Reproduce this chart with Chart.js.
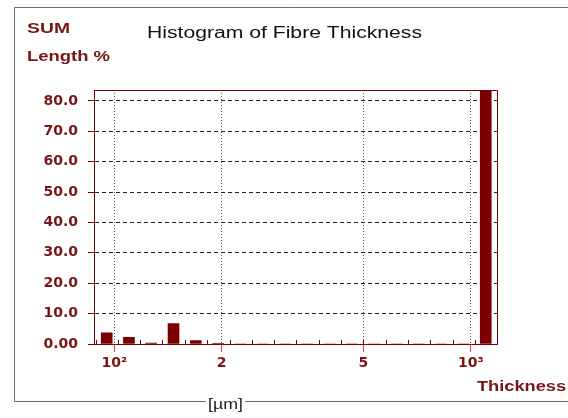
<!DOCTYPE html>
<html>
<head>
<meta charset="utf-8">
<script src="https://cdn.jsdelivr.net/npm/chart.js@4"></script>
<style>
  html, body { margin: 0; padding: 0; background: #fff; }
</style>
</head>
<body>
<canvas id="chart" width="568" height="418"></canvas>
<script>
// thickness classes (class centre, um) and the SUM length % in each class
const binCentres = [95.2, 109.9, 126.9, 146.6, 169.3, 195.6, 225.9, 260.9, 301.4, 348.1, 402.0, 464.4, 536.3, 619.5, 715.4, 826.3, 954.3, 1102];
const lengthPct = [3.7, 2.2, 0.3, 6.7, 1.1, 0.2, 0, 0, 0, 0, 0, 0, 0, 0, 0, 0, 0, 83.6];
// class boundaries, shown as the small ticks on the thickness axis
const binEdges = [88.6, 102.3, 118.2, 136.5, 157.7, 182.2, 210.5, 243.1, 280.8, 324.3, 374.7, 432.8, 499.9, 577.4, 667.0, 770.4, 889.9, 1028.0, 1187.4];
const xTicks = [100, 200, 500, 1000];
const xTickLabels = ["10\u00b2", "2", "5", "10\u00b3"];
const yTicks = [0, 10, 20, 30, 40, 50, 60, 70, 80];
const yTickLabels = ["0.00", "10.0", "20.0", "30.0", "40.0", "50.0", "60.0", "70.0", "80.0"];

const MAROON = "#7a0000";
const LABEL = "#7a1515";

// draws text squeezed/stretched to a given width (the original is rendered wide)
function wideText(ctx, text, left, base, width, font, color) {
  ctx.save();
  ctx.font = font;
  ctx.fillStyle = color;
  ctx.textBaseline = "alphabetic";
  ctx.textAlign = "left";
  const w = ctx.measureText(text).width;
  ctx.translate(left, base);
  ctx.scale(width / w, 1);
  ctx.fillText(text, 0, 0);
  ctx.restore();
}

const decor = {
  id: "decor",
  afterDraw(chart) {
    const { ctx, chartArea: a } = chart;
    const x = chart.scales.x;
    ctx.save();

    // outer frame (top, left, bottom with the unit label)
    ctx.strokeStyle = "#6a6a6a";
    ctx.lineWidth = 1;
    ctx.beginPath();
    ctx.moveTo(568, 7.5);
    ctx.lineTo(14.5, 7.5);
    ctx.lineTo(14.5, 401.5);
    ctx.lineTo(206, 401.5);
    ctx.moveTo(245, 401.5);
    ctx.lineTo(568, 401.5);
    ctx.stroke();

    // plot box top + right
    ctx.strokeStyle = MAROON;
    ctx.beginPath();
    ctx.moveTo(a.left, Math.round(a.top) + 0.5);
    ctx.lineTo(Math.round(a.right) - 0.5, Math.round(a.top) + 0.5);
    ctx.lineTo(Math.round(a.right) - 0.5, a.bottom);
    ctx.stroke();

    // class boundary ticks
    ctx.strokeStyle = MAROON;
    binEdges.forEach(v => {
      const px = Math.round(x.getPixelForValue(v)) + 0.5;
      ctx.beginPath();
      ctx.moveTo(px, a.bottom - 4);
      ctx.lineTo(px, a.bottom + 1);
      ctx.stroke();
    });
    ctx.restore();

    wideText(ctx, "Histogram of Fibre Thickness", 147, 37.5, 275, "16px 'Liberation Sans', Arial", "#111");
    wideText(ctx, "SUM", 27, 33, 43, "bold 15px 'Liberation Sans', Arial", LABEL);
    wideText(ctx, "Length %", 27, 60.5, 83, "bold 15px 'Liberation Sans', Arial", LABEL);
    wideText(ctx, "Thickness", 477, 391, 89, "bold 14px 'Liberation Sans', Arial", LABEL);
    wideText(ctx, "[\u00b5m]", 208, 409, 35, "15px 'Liberation Sans', Arial", "#222");
  }
};

new Chart(document.getElementById("chart"), {
  type: "bar",
  data: {
    datasets: [
      {
        label: "SUM Length %",
        data: binCentres.map((c, i) => ({ x: c, y: lengthPct[i] })),
        backgroundColor: MAROON,
        borderWidth: 0,
        barThickness: 11,
      },
    ],
  },
  options: {
    responsive: false,
    animation: false,
    layout: {
      padding: { top: 90, right: 70.5, bottom: 0, left: 0 },
    },
    plugins: {
      legend: { display: false },
      tooltip: { enabled: false },
      title: { display: false },
    },
    scales: {
      x: {
        type: "logarithmic",
        min: 87.7,
        max: 1189,
        offset: false,
        afterBuildTicks: (scale) => {
          scale.ticks = xTicks.map(v => ({ value: v }));
        },
        afterFit: (scale) => {
          scale.height = 74;
        },
        ticks: {
          autoSkip: false,
          maxRotation: 0,
          padding: 3,
          color: LABEL,
          font: { family: "'DejaVu Sans'", weight: "bold", size: 14 },
          callback: (value, index) => xTickLabels[index],
        },
        grid: {
          offset: false,
          color: "#555",
          tickColor: "#d04848",
          tickLength: 8,
          tickBorderDash: [],
        },
        border: {
          color: MAROON,
          width: 1,
          dash: [1, 2],
        },
      },
      y: {
        min: 0,
        max: 83.6,
        afterBuildTicks: (scale) => {
          scale.ticks = yTicks.map(v => ({ value: v }));
        },
        afterFit: (scale) => {
          scale.width = 94;
        },
        ticks: {
          padding: 10,
          color: LABEL,
          font: { family: "'DejaVu Sans'", weight: "bold", size: 14 },
          callback: (value, index) => yTickLabels[index],
        },
        grid: {
          color: (ctx) => (ctx.tick && ctx.tick.value === 0 ? "rgba(0,0,0,0)" : "#222"),
          tickColor: MAROON,
          tickLength: 6,
          tickBorderDash: [],
        },
        border: {
          color: MAROON,
          width: 1,
          dash: [4, 3],
        },
      },
    },
  },
  plugins: [decor],
});
</script>
</body>
</html>
